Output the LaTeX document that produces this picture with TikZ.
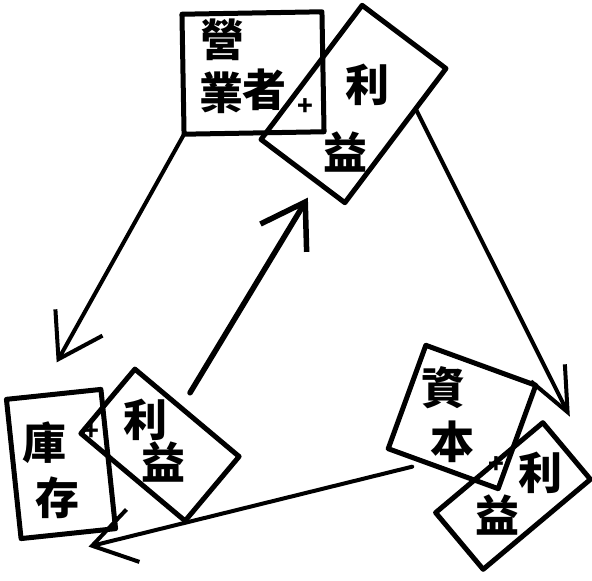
\documentclass[tikz,border=0pt]{standalone}
\usepackage{fontspec}
\newfontfamily\cjk{Noto Sans CJK TC}
\usetikzlibrary{arrows.meta, calc}

\begin{document}
\begin{tikzpicture}[
  x=1pt, y=1pt,
  card/.style={rectangle, draw, line width=5pt, inner sep=0pt, outer sep=0pt, line join=round},
  kanji/.style={font=\cjk\bfseries\fontsize{44}{46}\selectfont, inner sep=0pt},
  plusmark/.style={font=\cjk\bfseries\fontsize{26}{26}\selectfont, inner sep=0pt},
  arrow/.style={-{Straight Barb[length=42pt, width=54pt]}, line width=4pt, line cap=round, line join=round}
]
\useasboundingbox (0,0) rectangle (592,581);

% boxes
\node[card, minimum width=140pt, minimum height=120pt, rotate=1] (mgr) at (253,508) {};
\node[card, minimum width=168pt, minimum height=105pt, rotate=53] (topgain) at (353.5,477) {};
\node[card, minimum width=95pt, minimum height=140pt, rotate=6] (inv) at (61,117) {};
\node[card, minimum width=136pt, minimum height=84pt, rotate=-40] (invgain) at (160,136) {};
\node[card, minimum width=117pt, minimum height=110pt, rotate=-20] (cap) at (462,164) {};
\node[card, minimum width=140pt, minimum height=74pt, rotate=40] (capgain) at (513,85) {};

% texts
\node[kanji] (mgrA) at (222,541) {營};
\node[kanji] (mgrB) at (221,488) {業};
\node[kanji] (mgrC) at (264,491) {者};
\node[plusmark] (mgrplus) at (305,474) {+};
\node[kanji] (topgainA) at (367,496) {利};
\node[kanji] (topgainB) at (345,429) {益};
\node[kanji] (invA) at (45,138) {庫};
\node[kanji] (invB) at (57,83) {存};
\node[kanji] (invgainA) at (145,161) {利};
\node[kanji] (invgainB) at (163,119) {益};
\node[plusmark] (invplus) at (91,149) {+};
\node[kanji] (capA) at (443,193) {資};
\node[kanji] (capB) at (452,139) {本};
\node[kanji] (capgainA) at (540,108) {利};
\node[kanji] (capgainB) at (497,66) {益};
\node[plusmark] (capplus) at (496,116) {+};

% arrows
\draw[arrow] (mgr.south west) -- ($(inv.north)+(3,32)$);
\draw[arrow, line width=5.5pt] ($(invgain.north)+(3,20)$) -- ($(topgain.south west)+(-37,5)$);
\draw[arrow, -{Straight Barb[length=44pt, width=38pt]}] ($(topgain.south east)!0.3!(topgain.south west)$) -- ($(capgain.north east)+(27,6)$);
\draw[arrow] ($(cap.south west)+(24,-18)$) -- ($(inv.south east)+(-27,-18)$);

\end{tikzpicture}
\end{document}
